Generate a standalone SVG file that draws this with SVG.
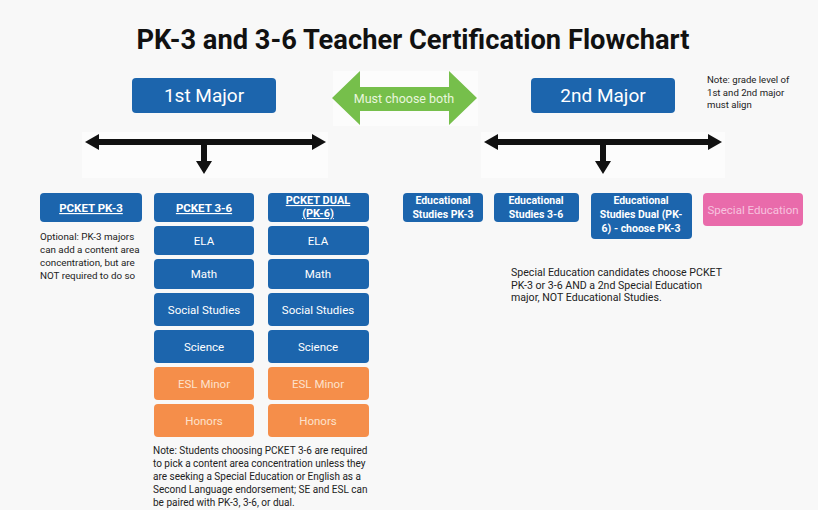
<svg xmlns="http://www.w3.org/2000/svg" width="818" height="510" viewBox="0 0 818 510">
<defs>
<style>
.bg{fill:#f8f8f8}
.blue{fill:#1c65ad}
.orange{fill:#f58e4a}
.pink{fill:#e96bab}
.t{font-family:Roboto,"Liberation Sans",sans-serif;text-anchor:middle}
.w{fill:#ffffff}
.hdr{font-size:11.5px;font-weight:bold;fill:#ffffff;text-decoration:underline}
.item{font-size:11.5px;fill:#ffffff}
.itemo{font-size:11.5px;fill:#fde2cc}
.ed{font-size:10.5px;font-weight:bold;fill:#ffffff}
.note{font-family:Roboto,"Liberation Sans",sans-serif;font-size:10px;fill:#222222}
.blk{fill:#111111}
.patch{fill:#fcfcfc}
</style>
</defs>
<rect class="bg" x="0" y="0" width="818" height="510"/>
<text class="t" x="413" y="49" style="font-size:28px;font-weight:bold" fill="#111111" textLength="553" lengthAdjust="spacingAndGlyphs">PK-3 and 3-6 Teacher Certification Flowchart</text>

<g id="connectors">
<rect class="patch" x="82" y="132" width="246" height="46"/>
<rect class="patch" x="481" y="132" width="244" height="46"/>
<path class="blk" d="M85,142 L99,134 L99,139 L312,139 L312,134 L326,142 L312,150 L312,145 L207,145 L207,161 L212,161 L204,174 L196,161 L201,161 L201,145 L99,145 L99,150 Z"/>
<path class="blk" d="M484,142 L498,134 L498,139 L708,139 L708,134 L722,142 L708,150 L708,145 L606,145 L606,161 L611,161 L603,174 L595,161 L600,161 L600,145 L498,145 L498,150 Z"/>
</g>

<g id="must-choose-both">
<rect class="patch" x="333" y="71" width="145" height="55"/>
<path fill="#76bf4b" d="M332,98 L360,71 L360,87 L449,87 L449,71 L477,98 L449,125 L449,111 L360,111 L360,125 Z"/>
<text class="t" x="404" y="103" style="font-size:12.5px" fill="#e9f6de">Must choose both</text>
</g>

<g id="major1">
<rect class="blue" x="132" y="78" width="144" height="35" rx="4"/>
<text class="t w" x="204" y="102" style="font-size:19px">1st Major</text>
</g>
<g id="major2">
<rect class="blue" x="531" y="78" width="144" height="35" rx="4"/>
<text class="t w" x="603" y="102" style="font-size:19px">2nd Major</text>
</g>
<g id="note-grade">
<text class="note" style="font-size:9.6px"><tspan x="707" y="83">Note: grade level of</tspan><tspan x="707" y="96">1st and 2nd major</tspan><tspan x="707" y="108">must align</tspan></text>
</g>

<g id="pcket-pk3">
<rect class="blue" x="40" y="193" width="102" height="29" rx="4"/>
<text class="t hdr" x="91" y="212">PCKET PK-3</text>
</g>
<g id="note-optional">
<text class="note" style="font-size:9.8px"><tspan x="40" y="240">Optional: PK-3 majors</tspan><tspan x="40" y="253">can add a content area</tspan><tspan x="40" y="266">concentration, but are</tspan><tspan x="40" y="279">NOT required to do so</tspan></text>
</g>

<g id="pcket-36">
<rect class="blue" x="154" y="193" width="100" height="29" rx="4"/>
<text class="t hdr" x="204" y="212">PCKET 3-6</text>
</g>
<g id="c1-ela"><rect class="blue" x="154" y="226" width="100" height="29" rx="4"/><text class="t item" x="204" y="245">ELA</text></g>
<g id="c1-math"><rect class="blue" x="154" y="259" width="100" height="30" rx="4"/><text class="t item" x="204" y="278">Math</text></g>
<g id="c1-ss"><rect class="blue" x="154" y="293" width="100" height="33" rx="4"/><text class="t item" x="204" y="314">Social Studies</text></g>
<g id="c1-sci"><rect class="blue" x="154" y="330" width="100" height="33" rx="4"/><text class="t item" x="204" y="351">Science</text></g>
<g id="c1-esl"><rect class="orange" x="154" y="367" width="100" height="33" rx="4"/><text class="t itemo" x="204" y="388">ESL Minor</text></g>
<g id="c1-hon"><rect class="orange" x="154" y="404" width="100" height="33" rx="4"/><text class="t itemo" x="204" y="425">Honors</text></g>

<g id="pcket-dual">
<rect class="blue" x="268" y="193" width="101" height="29" rx="4"/>
<text class="t hdr" style="font-size:11px"><tspan x="318" y="204">PCKET DUAL</tspan><tspan x="318" y="217">(PK-6)</tspan></text>
</g>
<g id="c2-ela"><rect class="blue" x="268" y="226" width="101" height="29" rx="4"/><text class="t item" x="318" y="245">ELA</text></g>
<g id="c2-math"><rect class="blue" x="268" y="259" width="101" height="30" rx="4"/><text class="t item" x="318" y="278">Math</text></g>
<g id="c2-ss"><rect class="blue" x="268" y="293" width="101" height="33" rx="4"/><text class="t item" x="318" y="314">Social Studies</text></g>
<g id="c2-sci"><rect class="blue" x="268" y="330" width="101" height="33" rx="4"/><text class="t item" x="318" y="351">Science</text></g>
<g id="c2-esl"><rect class="orange" x="268" y="367" width="101" height="33" rx="4"/><text class="t itemo" x="318" y="388">ESL Minor</text></g>
<g id="c2-hon"><rect class="orange" x="268" y="404" width="101" height="33" rx="4"/><text class="t itemo" x="318" y="425">Honors</text></g>

<g id="note-students">
<text class="note" style="font-size:10px"><tspan x="153" y="454">Note: Students choosing PCKET 3-6 are required</tspan><tspan x="153" y="467">to pick a content area concentration unless they</tspan><tspan x="153" y="480">are seeking a Special Education or English as a</tspan><tspan x="153" y="493">Second Language endorsement; SE and ESL can</tspan><tspan x="153" y="506">be paired with PK-3, 3-6, or dual.</tspan></text>
</g>

<g id="ed-pk3">
<rect class="blue" x="403" y="193" width="80" height="29" rx="4"/>
<text class="t ed"><tspan x="443" y="204">Educational</tspan><tspan x="443" y="218">Studies PK-3</tspan></text>
</g>
<g id="ed-36">
<rect class="blue" x="494" y="193" width="85" height="29" rx="4"/>
<text class="t ed"><tspan x="536" y="204">Educational</tspan><tspan x="536" y="218">Studies 3-6</tspan></text>
</g>
<g id="ed-dual">
<rect class="blue" x="591" y="193" width="101" height="46" rx="4"/>
<text class="t ed"><tspan x="641" y="204">Educational</tspan><tspan x="641" y="218">Studies Dual (PK-</tspan><tspan x="641" y="232">6) - choose PK-3</tspan></text>
</g>
<g id="special-ed">
<rect class="pink" x="703" y="193" width="100" height="33" rx="4"/>
<text class="t" x="753" y="214" style="font-size:11.5px" fill="#f7c3df">Special Education</text>
</g>
<g id="note-special">
<text class="note" style="font-size:10.6px"><tspan x="511" y="276">Special Education candidates choose PCKET</tspan><tspan x="511" y="289">PK-3 or 3-6 AND a 2nd Special Education</tspan><tspan x="511" y="301">major, NOT Educational Studies.</tspan></text>
</g>
</svg>
